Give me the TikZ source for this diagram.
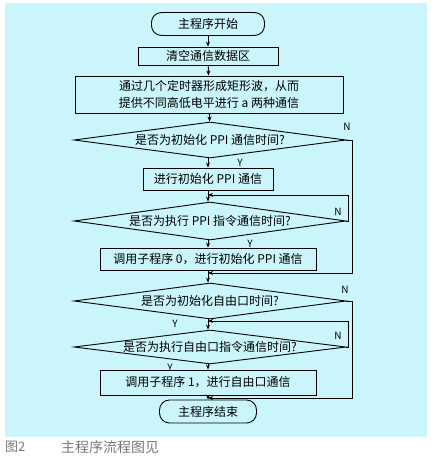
\documentclass[tikz,border=0pt]{standalone}
\usepackage{fontspec}
\setmainfont{Noto Sans CJK SC}
\usetikzlibrary{shapes.geometric,arrows.meta}
\definecolor{bgcyan}{RGB}{202,245,250}
\definecolor{capgray}{RGB}{120,120,120}
\tikzset{
  every node/.style={font=\fontsize{12}{17}\selectfont, inner sep=0pt},
  box/.style={draw, line width=0.9pt, minimum height=#1},
  box/.default=20pt,
  term/.style={draw, line width=0.9pt, rounded corners=10pt, minimum height=23pt},
  dec/.style={draw, line width=0.9pt, diamond, aspect=7.6, minimum width=272pt, minimum height=#1},
  dec/.default=36pt,
  flow/.style={line width=0.9pt, -{Stealth[length=5pt,width=4pt]}},
  lab/.style={font=\fontsize{10}{12}\selectfont},
}
\begin{document}
\begin{tikzpicture}[x=1pt,y=-1pt]
\useasboundingbox (0,0) rectangle (433,457);
\fill[bgcyan] (5,3) rectangle (427,437);

\node[term, minimum width=113pt] (start) at (208,24) {主程序开始};
\node[box=18pt, minimum width=140pt] (clr) at (208,56) {清空通信数据区};
\node[box=37pt, minimum width=268pt, align=center] (gen) at (209,94.5) {通过几个定时器形成矩形波，从而\\提供不同高低电平进行 a 两种通信};
\node[dec=36pt] (d1) at (210,140) {是否为初始化 PPI 通信时间?};
\node[box=22pt, minimum width=130pt] (b3) at (208,179) {进行初始化 PPI 通信};
\coordinate (L1) at (208,195);
\node[dec=38pt] (d2) at (210,221) {是否为执行 PPI 指令通信时间?};
\node[box=22pt, minimum width=216pt] (b4) at (208,259) {调用子程序 0，进行初始化 PPI 通信};
\coordinate (J1) at (208,273);
\node[dec=36pt] (d3) at (210,301) {是否为初始化自由口时间?};
\coordinate (L2) at (208,321);
\node[dec=34pt] (d4) at (210,347) {是否为执行自由口指令通信时间?};
\node[box=25pt, minimum width=216pt] (b5) at (208,382.5) {调用子程序 1，进行自由口通信};
\coordinate (J2) at (208,398);
\node[term, minimum width=97pt] (end) at (208,411.5) {主程序结束};

% main flow
\draw[flow] (start) -- (clr);
\draw[flow] (clr) -- (gen);
\draw[flow] (gen) -- (d1);
\draw[flow] (d1.south -| b3.north) -- (b3);
\draw[flow] (b3) -- (d2.north -| b3.north);
\draw[flow] (d2.south -| b4.north) -- (b4);
\draw[flow] (b4) -- (d3.north -| b4.north);
\draw[flow] (d3.south -| L2) -- (d4.north -| L2);
\draw[flow] (d4.south -| b5.north) -- (b5);
\draw[flow] (b5) -- (end);

% N branches
\draw[flow] (d1.east) -- (352,140) -- (352,273) -- (J1);
\draw[flow] (d2.east) -- (348,221) -- (348,195) -- (L1);
\draw[flow] (d3.east) -- (352,301) -- (352,398) -- (J2);
\draw[flow] (d4.east) -- (348,347) -- (348,321) -- (L2);

% labels
\node[lab] (n1) at (347,127) {N};
\node[lab] (y1) at (240,163) {Y};
\node[lab] (n2) at (338,212) {N};
\node[lab] (y2) at (250,244) {Y};
\node[lab] (n3) at (345,290) {N};
\node[lab] (y3) at (175,324) {Y};
\node[lab] (n4) at (338,336) {N};
\node[lab] (y4) at (170,368) {Y};

% caption
\node[anchor=west, text=capgray, font=\fontsize{13}{15}\selectfont] (cap1) at (5,447) {图2};
\node[anchor=west, text=capgray, font=\fontsize{14}{16}\selectfont] (cap2) at (61,447) {主程序流程图见};
\end{tikzpicture}
\end{document}
